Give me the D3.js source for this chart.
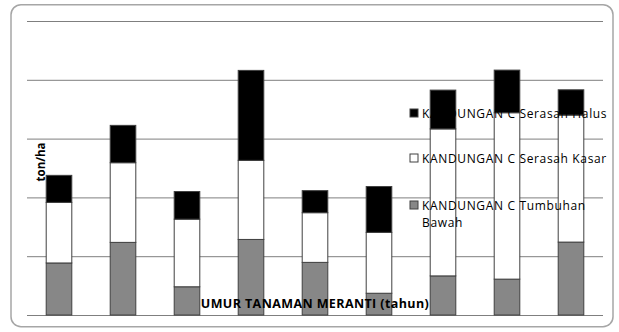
<!DOCTYPE html>
<html>
<head>
<meta charset="utf-8">
<script src="https://cdn.jsdelivr.net/npm/d3@7"></script>
<style>
  html, body { margin: 0; padding: 0; background: #fff; }
  svg { display: block; }
  text { font-family: "Open Sans", sans-serif; }
</style>
</head>
<body>
<svg id="chart" width="619" height="332"></svg>
<script>
// Stand ages (categories along the x axis)
const categories = ["1", "2", "3", "4", "5", "6", "7", "8", "9"];

// Carbon content per component (ton/ha)
const tumbuhanBawah = [1.77, 2.47, 0.96, 2.57, 1.79, 0.74, 1.33, 1.22, 2.48];
const serasahKasar  = [2.06, 2.71, 2.30, 2.69, 1.69, 2.07, 5.00, 5.66, 4.32];
const serasahHalus  = [0.92, 1.27, 0.94, 3.06, 0.75, 1.56, 1.32, 1.45, 0.86];

const seriesNames = [
  "KANDUNGAN C Tumbuhan Bawah",
  "KANDUNGAN C Serasah Kasar",
  "KANDUNGAN C Serasah Halus"
];
const seriesColors = ["#878787", "#ffffff", "#000000"];

const yTicks = [0, 2, 4, 6, 8, 10];
const yTitle = "ton/ha";
const xTitle = "UMUR TANAMAN MERANTI (tahun)";

const svg = d3.select("#chart");
const margin = { left: 27, right: 16, top: 21, bottom: 17 };
const W = 619, H = 332;

// Chart frame
svg.append("rect")
  .attr("x", 11).attr("y", 4.7)
  .attr("width", 602).attr("height", 322)
  .attr("rx", 10).attr("ry", 10)
  .attr("fill", "#fff")
  .attr("stroke", "#a6a6a6")
  .attr("stroke-width", 1.5);

const x = d3.scaleBand()
  .domain(categories)
  .range([margin.left, W - margin.right])
  .paddingInner(0.6).paddingOuter(0.3);

const y = d3.scaleLinear()
  .domain([0, 10])
  .range([H - margin.bottom, margin.top]);

// Horizontal gridlines
const grid = svg.append("g")
  .attr("transform", `translate(${margin.left},0)`)
  .call(d3.axisLeft(y).tickValues(yTicks).tickSize(-(W - margin.right - margin.left)).tickFormat(""));
grid.select(".domain").remove();
grid.selectAll(".tick line").attr("stroke", "#7f7f7f").attr("stroke-width", 1);

// Stacked bars
const rows = categories.map((c, i) => ({
  cat: c,
  [seriesNames[0]]: tumbuhanBawah[i],
  [seriesNames[1]]: serasahKasar[i],
  [seriesNames[2]]: serasahHalus[i]
}));
const stacked = d3.stack().keys(seriesNames)(rows);

svg.append("g").selectAll("g")
  .data(stacked)
  .join("g")
  .attr("fill", (d, i) => seriesColors[i])
  .selectAll("rect")
  .data(d => d)
  .join("rect")
  .attr("x", d => x(d.data.cat))
  .attr("width", x.bandwidth())
  .attr("y", d => y(d[1]))
  .attr("height", d => y(d[0]) - y(d[1]))
  .attr("stroke", "#404040")
  .attr("stroke-width", 1);

// Y axis title
svg.append("text")
  .attr("transform", `translate(45,162) rotate(-90)`)
  .attr("text-anchor", "middle")
  .attr("font-size", 11.5)
  .attr("font-weight", "bold")
  .attr("fill", "#000")
  .text(yTitle);

// X axis title
svg.append("text")
  .attr("x", 315).attr("y", 308)
  .attr("text-anchor", "middle")
  .attr("font-size", 12.5)
  .attr("font-weight", "bold")
  .attr("letter-spacing", 0.4)
  .attr("fill", "#000")
  .text(xTitle);

// Legend (top series first)
const legendOrder = [2, 1, 0];
const legendY = [113, 158, 205];
const legend = svg.append("g");
legendOrder.forEach((si, k) => {
  const g = legend.append("g").attr("transform", `translate(410,${legendY[k]})`);
  g.append("rect")
    .attr("x", 0).attr("y", -4).attr("width", 8).attr("height", 8)
    .attr("fill", seriesColors[si])
    .attr("stroke", "#404040").attr("stroke-width", 1);
  const t = g.append("text")
    .attr("x", 12).attr("y", 4.5)
    .attr("font-size", 12)
    .attr("letter-spacing", 0.65)
    .attr("fill", "#000");
  // wrap words to the available width
  const words = seriesNames[si].split(" ");
  const maxW = 192;
  let line = [];
  let tspan = t.append("tspan").attr("x", 12).attr("dy", 0);
  words.forEach(w => {
    line.push(w);
    tspan.text(line.join(" "));
    if (tspan.node().getComputedTextLength() > maxW && line.length > 1) {
      line.pop();
      tspan.text(line.join(" "));
      line = [w];
      tspan = t.append("tspan").attr("x", 12).attr("dy", 17.5).text(w);
    }
  });
});
</script>
</body>
</html>
